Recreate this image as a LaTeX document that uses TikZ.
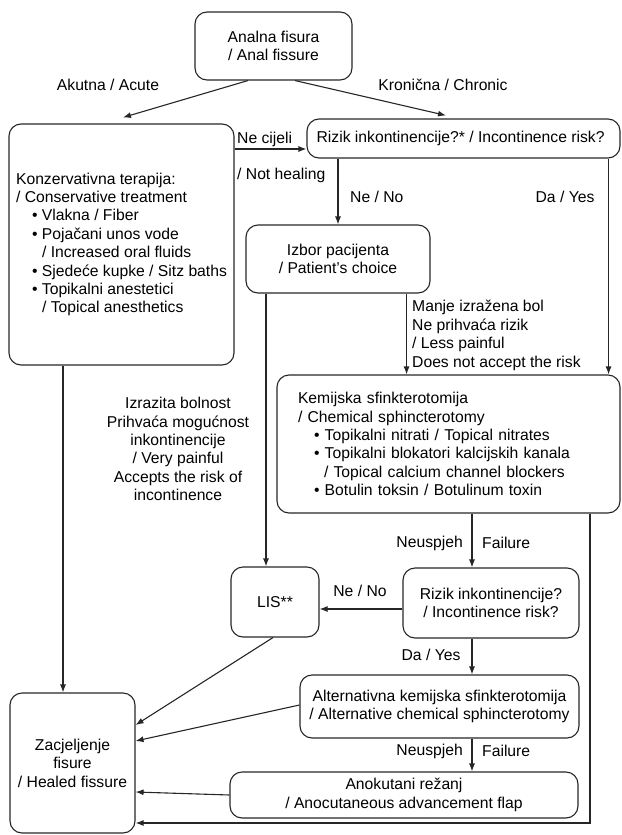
\documentclass[tikz,border=0pt]{standalone}
\usepackage{fontspec}
\setmainfont{Liberation Sans}
\usetikzlibrary{arrows.meta, positioning, calc}
\tikzset{
    box_round/.style={
        rectangle, rounded corners=12pt, draw=black!85, line width=1.1pt,
        align=center, inner sep=0pt
    },
    box_list/.style={
        box_round, align=left
    },
    flow_arrow/.style={
        -{Latex[length=8pt, width=6pt]}, draw=black!85, line width=1.1pt
    },
    lbl/.style={
        inner sep=0pt, align=center
    },
    lbl_left/.style={
        inner sep=0pt, align=left, anchor=west
    }
}
\newcommand{\itm}{\hspace*{16pt}\textbullet\ }
\newcommand{\cnt}{\hspace*{26pt}}

\begin{document}
\begin{tikzpicture}[x=1pt, y=-1pt, font=\fontsize{15.7}{18.4}\selectfont]

    \useasboundingbox (0,0) rectangle (621,835);

    % --- Start ---
    \node[box_round, minimum width=157pt, minimum height=68pt] (fissure) at (273.5,46) {
        Analna fisura\\/ Anal fissure
    };

    % --- Acute branch ---
    \node[box_list, minimum width=225pt, minimum height=241pt] (conserv) at (121.5,244.5) {
        Konzervativna terapija:\\
        / Conservative treatment\\
        \itm Vlakna / Fiber\\
        \itm Pojačani unos vode\\
        \cnt / Increased oral fluids\\
        \itm Sjedeće kupke / Sitz baths\\
        \itm Topikalni anestetici\\
        \cnt / Topical anesthetics
    };

    % --- Chronic branch ---
    \node[box_round, minimum width=313pt, minimum height=39pt] (risk1) at (463.5,138.5) {
        Rizik inkontinencije?* / Incontinence risk?
    };
    \node[box_round, minimum width=184pt, minimum height=68pt] (choice) at (338,259) {
        Izbor pacijenta\\/ Patient’s choice
    };
    \node[box_list, text width=301pt, inner xsep=21pt, minimum height=138pt] (chem) at (448.5,444) {
        Kemijska sfinkterotomija\\
        / Chemical sphincterotomy\\
        \itm Topikalni nitrati / Topical nitrates\\
        \itm Topikalni blokatori kalcijskih kanala\\
        \cnt / Topical calcium channel blockers\\
        \itm Botulin toksin / Botulinum toxin
    };

    % --- Lower part ---
    \node[box_round, minimum width=88pt, minimum height=70pt] (lis) at (275,602) {LIS**};
    \node[box_round, minimum width=176pt, minimum height=70pt] (risk2) at (491,603) {
        Rizik inkontinencije?\\/ Incontinence risk?
    };
    \node[box_round, minimum width=279pt, minimum height=63pt] (alt) at (439.5,706.5) {
        Alternativna kemijska sfinkterotomija\\/ Alternative chemical sphincterotomy
    };
    \node[box_round, minimum width=348pt, minimum height=46pt] (flap) at (404,795) {
        Anokutani režanj\\/ Anocutaneous advancement flap
    };
    \node[box_round, minimum width=125pt, minimum height=140pt] (healed) at (72.5,763) {
        Zacjeljenje\\fisure\\/ Healed fissure
    };

    % --- Labels ---
    \node[lbl] (lacute) at (108,85) {Akutna / Acute};
    \node[lbl] (lchronic) at (443,85) {Kronična / Chronic};
    \node[lbl_left] (lnoheal) at (237,139) {Ne cijeli};
    \node[lbl_left] (lnoheal2) at (237,175) {/ Not healing};
    \node[lbl_left] (lrno) at (350,197) {Ne / No};
    \node[lbl] (lryes) at (565,197) {Da / Yes};
    \node[lbl_left] (lmild) at (412,335.5) {
        Manje izražena bol\\Ne prihvaća rizik\\/ Less painful\\Does not accept the risk
    };
    \node[lbl] (lsevere) at (178,449) {
        Izrazita bolnost\\Prihvaća mogućnost\\inkontinencije\\/ Very painful\\Accepts the risk of\\incontinence
    };
    \node[lbl, anchor=east] (lfail1) at (463,543) {Neuspjeh};
    \node[lbl_left] (lfail1b) at (482,543) {Failure};
    \node[lbl] (lr2no) at (360,591) {Ne / No};
    \node[lbl] (lr2yes) at (431,655) {Da / Yes};
    \node[lbl, anchor=east] (lfail2) at (463,751) {Neuspjeh};
    \node[lbl_left] (lfail2b) at (482,751) {Failure};

    % --- Connectors ---
    \coordinate (xmid) at (472,0);
    \coordinate (xright) at (590,0);
    \coordinate (r1in) at ([yshift=-10.5pt]risk1.west);
    \coordinate (r1yes) at ([xshift=-12pt]risk1.south east);
    \coordinate (chmild) at ([xshift=-24pt]choice.south east);
    \coordinate (lisin) at ([xshift=-9pt]lis.north);
    \coordinate (konzout) at ([xshift=-58.5pt]conserv.south);
    \coordinate (r2no) at ([yshift=-6pt]risk2.west);

    \draw[flow_arrow] ([xshift=-25.5pt]fissure.south) -- ([shift={(1.5pt,6pt)}]conserv.north);
    \draw[flow_arrow] ([xshift=21.5pt]fissure.south) -- ([shift={(-17.5pt,3pt)}]risk1.north);
    \draw[flow_arrow] (conserv.east |- r1in) -- (r1in);
    \draw[flow_arrow] (choice.north |- risk1.south) -- (choice.north);
    \draw[flow_arrow] (r1yes) -- (r1yes |- chem.north);
    \draw[flow_arrow] (chmild) -- (chmild |- chem.north);
    \draw[flow_arrow] (choice.south -| lisin) -- (lisin);
    \draw[flow_arrow] (konzout) -- (konzout |- healed.north);

    \draw[flow_arrow] (chem.south -| xmid) -- (risk2.north -| xmid);
    \draw[flow_arrow] (r2no) -- (r2no -| lis.east);
    \draw[flow_arrow] (risk2.south -| xmid) -- (alt.north -| xmid);
    \draw[flow_arrow] (alt.south -| xmid) -- (flap.north -| xmid);

    \draw[flow_arrow] ([xshift=-2pt]lis.south) -- ([yshift=38pt]healed.east);
    \draw[flow_arrow] ([yshift=1.5pt]alt.west) -- ([yshift=22pt]healed.east);
    \draw[flow_arrow] (flap.west) -- ([yshift=-29pt]healed.east);
    \draw[flow_arrow] (chem.south -| xright) |- ([yshift=-60pt]healed.east);

\end{tikzpicture}
\end{document}
